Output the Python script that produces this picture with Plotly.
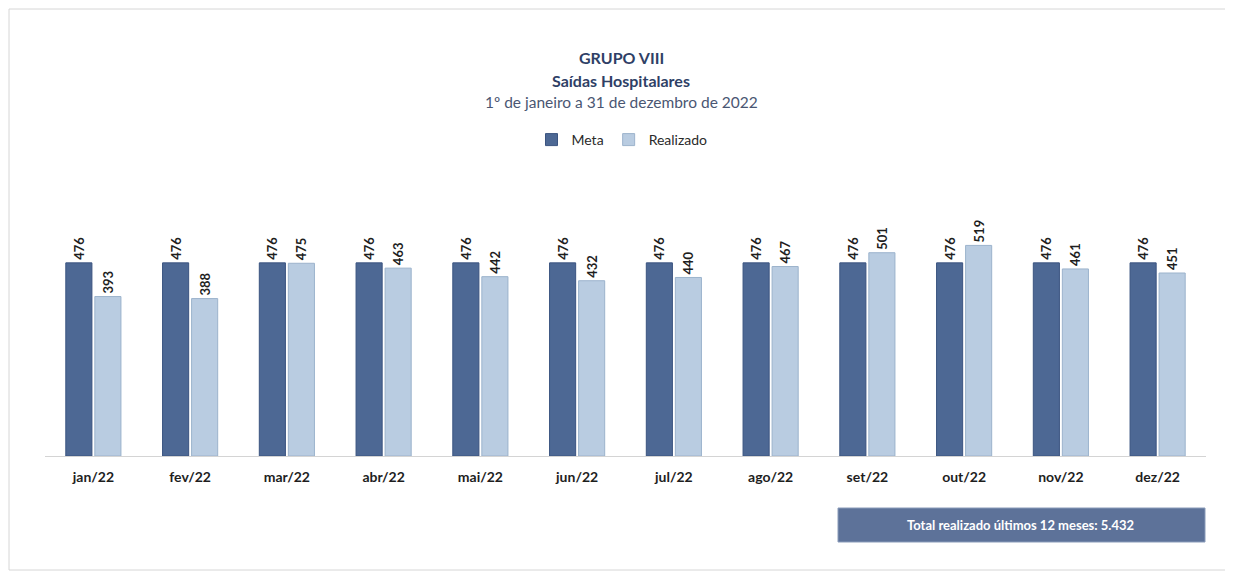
"""Grupo VIII - Saidas Hospitalares, meta x realizado em 2022."""

import plotly.graph_objects as go

meses = ["jan/22", "fev/22", "mar/22", "abr/22", "mai/22", "jun/22",
         "jul/22", "ago/22", "set/22", "out/22", "nov/22", "dez/22"]
meta = [476, 476, 476, 476, 476, 476, 476, 476, 476, 476, 476, 476]
realizado = [393, 388, 475, 463, 442, 432, 440, 467, 501, 519, 461, 451]
total_txt = "Total realizado últimos 12 meses: 5.432"

W, H = 1233, 573
OFF = 8  # margem do body da pagina html
ML, MT = 45 - OFF, 230 - OFF
PW, PH = 1161, 226
MR, MB = W - ML - PW, H - MT - PH

FONT = "Lato, Open Sans, sans-serif"


def px_x(x):
    return (x - OFF - ML) / PW


def px_y(y):
    return (MT + PH - (y - OFF)) / PH


fig = go.Figure()
fig.add_trace(go.Bar(
    x=meses, y=meta, name="Meta",
    marker=dict(color="#4d6894", line=dict(color="#3b5480", width=1)),
    text=meta, textposition="outside", textangle=-90,
    textfont=dict(family=FONT, size=13, color="#1e1e1e", weight="bold"),
    cliponaxis=False,
))
fig.add_trace(go.Bar(
    x=meses, y=realizado, name="Realizado",
    marker=dict(color="#b9cce1", line=dict(color="#9cb3cc", width=1)),
    text=realizado, textposition="outside", textangle=-90,
    textfont=dict(family=FONT, size=13, color="#1e1e1e", weight="bold"),
    cliponaxis=False,
))

# titulo
for txt, y, size, bold, color in [
    ("GRUPO VIII", 57, 16, True, "#2f3f66"),
    ("Saídas Hospitalares", 80, 16, True, "#2f3f66"),
    ("1º de janeiro a 31 de dezembro de 2022", 102, 15.5, False, "#4a5672"),
]:
    fig.add_annotation(
        x=px_x(621), y=px_y(y), xref="paper", yref="paper",
        text=f"<b>{txt}</b>" if bold else txt, showarrow=False,
        font=dict(family=FONT, size=size, color=color),
        xanchor="center", yanchor="middle",
    )

# caixa do total
fig.add_shape(
    type="rect", xref="paper", yref="paper",
    x0=px_x(838), x1=px_x(1205), y0=px_y(542), y1=px_y(508),
    fillcolor="#5d7299", line=dict(color="#8a9bb9", width=1),
)
fig.add_annotation(
    x=px_x(1020), y=px_y(525), xref="paper", yref="paper",
    text=f"<b>{total_txt}</b>", showarrow=False,
    font=dict(family=FONT, size=13, color="white"),
    xanchor="center", yanchor="middle",
)

# moldura da pagina
fig.add_shape(
    type="rect", xref="paper", yref="paper",
    x0=px_x(9), x1=px_x(1227), y0=px_y(570), y1=px_y(9),
    line=dict(color="#d6d6d6", width=1), fillcolor="rgba(0,0,0,0)",
    layer="below",
)

fig.update_layout(
    width=W, height=H,
    margin=dict(l=ML, r=MR, t=MT, b=MB),
    paper_bgcolor="white", plot_bgcolor="white",
    barmode="group", bargap=0.4, bargroupgap=0.1,
    showlegend=True,
    legend=dict(
        orientation="h", x=px_x(622), y=px_y(140),
        xanchor="center", yanchor="middle",
        font=dict(family=FONT, size=14, color="#2a2a2a"),
        itemwidth=30, traceorder="normal",
    ),
    xaxis=dict(
        showline=True, linecolor="#d4d4d4", linewidth=1,
        ticks="", ticklabelstandoff=8,
        tickfont=dict(family=FONT, size=14, color="#1e1e1e", weight="bold"),
        showgrid=False,
    ),
    yaxis=dict(range=[0, 557], visible=False, showgrid=False),
    font=dict(family=FONT),
)

fig.write_html("out.html", config={"displayModeBar": False})
